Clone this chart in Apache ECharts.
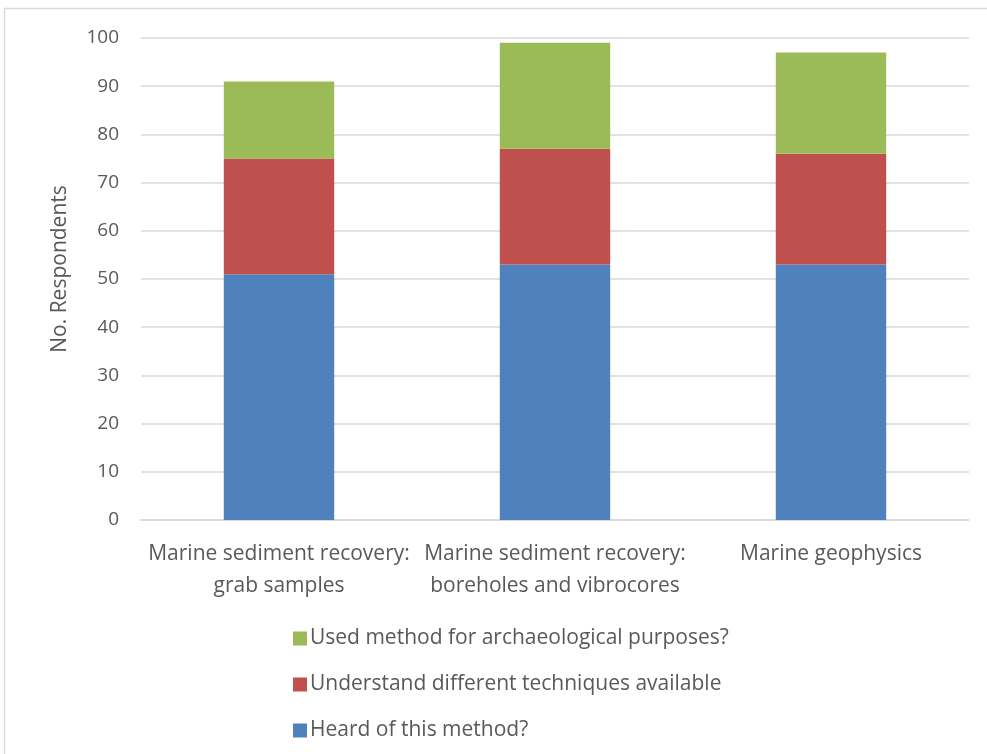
<!DOCTYPE html>
<html>
<head>
<meta charset="utf-8">
<script src="https://cdn.jsdelivr.net/npm/echarts@6/dist/echarts.min.js"></script>
<style>
  html, body { margin: 0; padding: 0; background: #ffffff; }
  #chart { width: 987px; height: 754px; }
</style>
</head>
<body>
<div id="chart"></div>
<script>
// Survey methods on the category axis
const categories = [
  'Marine sediment recovery:\ngrab samples',
  'Marine sediment recovery:\nboreholes and vibrocores',
  'Marine geophysics'
];
// Stacked segment values (respondents)
const heardValues = [51, 53, 53];
const understandValues = [24, 24, 23];
const usedValues = [16, 22, 21];
const seriesNames = [
  'Heard of this method?',
  'Understand different techniques available',
  'Used method for archaeological purposes?'
];
const yTicks = { min: 0, max: 100, interval: 10 };

const textFont = '"Open Sans", sans-serif';
const textColor = '#595959';

const chart = echarts.init(document.getElementById('chart'), null, { renderer: 'canvas' });

chart.setOption({
  animation: false,
  backgroundColor: '#ffffff',
  graphic: [{
    type: 'rect',
    shape: { x: 4.5, y: 8.5, width: 1100, height: 900 },
    style: { fill: 'none', stroke: '#d9d9d9', lineWidth: 1.5 },
    silent: true
  }],
  grid: { left: 141, right: 18, top: 38, bottom: 234 },
  legend: {
    orient: 'vertical',
    left: 288,
    top: 623,
    itemWidth: 14,
    itemHeight: 14,
    itemGap: 25,
    icon: 'rect',
    data: [seriesNames[2], seriesNames[1], seriesNames[0]],
    textStyle: { fontFamily: textFont, fontSize: 21, color: textColor, padding: [0, 0, 0, -2] }
  },
  xAxis: {
    type: 'category',
    data: categories,
    axisLine: { show: true, lineStyle: { color: '#d9d9d9', width: 1.5 } },
    axisTick: { show: false },
    axisLabel: {
      interval: 0,
      margin: 18,
      lineHeight: 32,
      fontFamily: textFont,
      fontSize: 21,
      color: textColor
    }
  },
  yAxis: {
    type: 'value',
    min: yTicks.min,
    max: yTicks.max,
    interval: yTicks.interval,
    name: 'No. Respondents',
    nameLocation: 'middle',
    nameGap: 70,
    nameRotate: 90,
    nameTextStyle: { fontFamily: textFont, fontSize: 21, color: textColor, padding: [0, 0, 0, 20] },
    axisLine: { show: false },
    axisTick: { show: false },
    splitLine: { lineStyle: { color: '#d9d9d9', width: 1.5 } },
    axisLabel: { margin: 22, fontFamily: textFont, fontSize: 19, color: textColor }
  },
  series: [
    {
      name: seriesNames[0], type: 'bar', stack: 'total', data: heardValues,
      barWidth: '40%', itemStyle: { color: '#4f81bd' }
    },
    {
      name: seriesNames[1], type: 'bar', stack: 'total', data: understandValues,
      barWidth: '40%', itemStyle: { color: '#c0504d' }
    },
    {
      name: seriesNames[2], type: 'bar', stack: 'total', data: usedValues,
      barWidth: '40%', itemStyle: { color: '#9bbb59' }
    }
  ]
});
</script>
</body>
</html>
